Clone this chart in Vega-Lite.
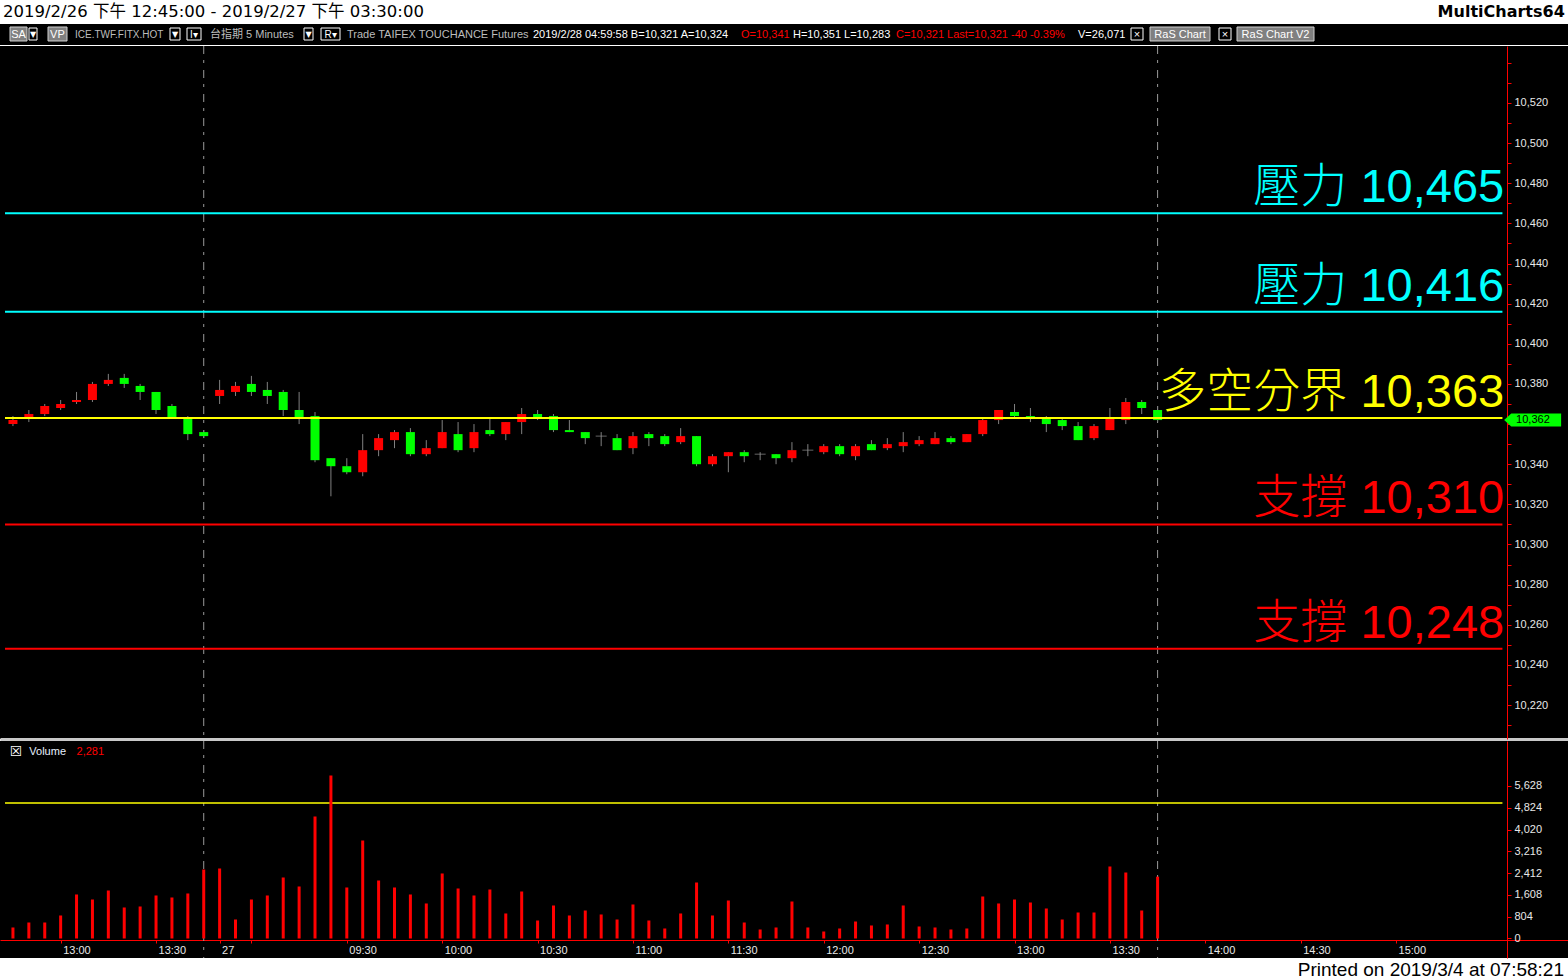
{
  "$schema": "https://vega.github.io/schema/vega-lite/v6.json",
  "background": "#ffffff",
  "padding": 0,
  "spacing": 0,
  "config": {"view": {"stroke": null}, "font": "Liberation Sans", "axis": {"labelOverlap": false, "labelFlush": false, "labelBound": false}},
  "datasets": {
    "bars": [
      {"i":0,"o":10360,"h":10364,"l":10359,"c":10362,"v":406},
      {"i":1,"o":10363,"h":10367,"l":10361,"c":10365,"v":590},
      {"i":2,"o":10365,"h":10370,"l":10364,"c":10369,"v":590},
      {"i":3,"o":10368,"h":10372,"l":10367,"c":10370,"v":849},
      {"i":4,"o":10371,"h":10376,"l":10370,"c":10372,"v":1624},
      {"i":5,"o":10372,"h":10381,"l":10371,"c":10380,"v":1439},
      {"i":6,"o":10380,"h":10385,"l":10379,"c":10382,"v":1771},
      {"i":7,"o":10383,"h":10385,"l":10378,"c":10380,"v":1144},
      {"i":8,"o":10379,"h":10380,"l":10372,"c":10376,"v":1181},
      {"i":9,"o":10376,"h":10376,"l":10365,"c":10367,"v":1587},
      {"i":10,"o":10369,"h":10370,"l":10363,"c":10363,"v":1513},
      {"i":11,"o":10363,"h":10364,"l":10352,"c":10355,"v":1661},
      {"i":12,"o":10356,"h":10357,"l":10353,"c":10354,"v":2546},
      {"i":13,"o":10374,"h":10382,"l":10370,"c":10377,"v":2583},
      {"i":14,"o":10376,"h":10381,"l":10374,"c":10379,"v":701},
      {"i":15,"o":10380,"h":10384,"l":10374,"c":10376,"v":1439},
      {"i":16,"o":10377,"h":10381,"l":10370,"c":10374,"v":1587},
      {"i":17,"o":10376,"h":10377,"l":10364,"c":10367,"v":2251},
      {"i":18,"o":10367,"h":10376,"l":10360,"c":10363,"v":1919},
      {"i":19,"o":10364,"h":10366,"l":10341,"c":10342,"v":4502},
      {"i":20,"o":10343,"h":10343,"l":10324,"c":10339,"v":6015},
      {"i":21,"o":10339,"h":10343,"l":10335,"c":10336,"v":1882},
      {"i":22,"o":10336,"h":10355,"l":10334,"c":10347,"v":3616},
      {"i":23,"o":10347,"h":10355,"l":10344,"c":10353,"v":2140},
      {"i":24,"o":10352,"h":10357,"l":10348,"c":10356,"v":1882},
      {"i":25,"o":10356,"h":10358,"l":10344,"c":10345,"v":1624},
      {"i":26,"o":10345,"h":10352,"l":10344,"c":10348,"v":1292},
      {"i":27,"o":10348,"h":10362,"l":10348,"c":10356,"v":2399},
      {"i":28,"o":10355,"h":10361,"l":10346,"c":10347,"v":1845},
      {"i":29,"o":10348,"h":10360,"l":10346,"c":10356,"v":1587},
      {"i":30,"o":10357,"h":10363,"l":10354,"c":10355,"v":1808},
      {"i":31,"o":10355,"h":10361,"l":10352,"c":10361,"v":923},
      {"i":32,"o":10361,"h":10368,"l":10355,"c":10365,"v":1734},
      {"i":33,"o":10365,"h":10367,"l":10362,"c":10363,"v":664},
      {"i":34,"o":10364,"h":10365,"l":10356,"c":10357,"v":1218},
      {"i":35,"o":10357,"h":10362,"l":10356,"c":10356,"v":849},
      {"i":36,"o":10356,"h":10356,"l":10350,"c":10353,"v":1033},
      {"i":37,"o":10354,"h":10356,"l":10349,"c":10354,"v":886},
      {"i":38,"o":10353,"h":10355,"l":10347,"c":10347,"v":701},
      {"i":39,"o":10348,"h":10356,"l":10345,"c":10354,"v":1255},
      {"i":40,"o":10355,"h":10356,"l":10349,"c":10353,"v":664},
      {"i":41,"o":10354,"h":10355,"l":10349,"c":10350,"v":369},
      {"i":42,"o":10351,"h":10358,"l":10350,"c":10354,"v":923},
      {"i":43,"o":10354,"h":10354,"l":10339,"c":10340,"v":2066},
      {"i":44,"o":10340,"h":10345,"l":10339,"c":10344,"v":849},
      {"i":45,"o":10344,"h":10346,"l":10336,"c":10346,"v":1402},
      {"i":46,"o":10346,"h":10347,"l":10341,"c":10344,"v":590},
      {"i":47,"o":10345,"h":10346,"l":10342,"c":10345,"v":332},
      {"i":48,"o":10345,"h":10345,"l":10340,"c":10343,"v":406},
      {"i":49,"o":10343,"h":10351,"l":10341,"c":10347,"v":1365},
      {"i":50,"o":10347,"h":10350,"l":10344,"c":10347,"v":406},
      {"i":51,"o":10346,"h":10350,"l":10345,"c":10349,"v":258},
      {"i":52,"o":10349,"h":10350,"l":10344,"c":10345,"v":369},
      {"i":53,"o":10344,"h":10350,"l":10342,"c":10349,"v":627},
      {"i":54,"o":10350,"h":10352,"l":10347,"c":10347,"v":480},
      {"i":55,"o":10348,"h":10353,"l":10347,"c":10350,"v":517},
      {"i":56,"o":10349,"h":10356,"l":10346,"c":10351,"v":1218},
      {"i":57,"o":10350,"h":10354,"l":10349,"c":10352,"v":443},
      {"i":58,"o":10350,"h":10356,"l":10350,"c":10353,"v":406},
      {"i":59,"o":10353,"h":10354,"l":10350,"c":10351,"v":332},
      {"i":60,"o":10351,"h":10355,"l":10351,"c":10355,"v":369},
      {"i":61,"o":10355,"h":10363,"l":10354,"c":10362,"v":1550},
      {"i":62,"o":10362,"h":10367,"l":10360,"c":10367,"v":1292},
      {"i":63,"o":10366,"h":10370,"l":10363,"c":10364,"v":1439},
      {"i":64,"o":10364,"h":10368,"l":10361,"c":10363,"v":1328},
      {"i":65,"o":10363,"h":10364,"l":10356,"c":10360,"v":1107},
      {"i":66,"o":10362,"h":10363,"l":10357,"c":10359,"v":701},
      {"i":67,"o":10359,"h":10361,"l":10352,"c":10352,"v":959},
      {"i":68,"o":10353,"h":10360,"l":10352,"c":10359,"v":959},
      {"i":69,"o":10357,"h":10368,"l":10357,"c":10363,"v":2657},
      {"i":70,"o":10362,"h":10373,"l":10360,"c":10371,"v":2435},
      {"i":71,"o":10371,"h":10372,"l":10365,"c":10368,"v":1033},
      {"i":72,"o":10367,"h":10369,"l":10361,"c":10362,"v":2281}
    ],
    "levels": [
      {"kind":"壓力","price":10465,"label":"壓力 10,465"},
      {"kind":"壓力","price":10416,"label":"壓力 10,416"},
      {"kind":"多空分界","price":10363,"label":"多空分界 10,363"},
      {"kind":"支撐","price":10310,"label":"支撐 10,310"},
      {"kind":"支撐","price":10248,"label":"支撐 10,248"}
    ]
  },
  "vconcat": [
    {
      "width": 1568, "height": 24,
      "view": {"fill": "#ffffff", "stroke": null},
      "data": {"values": [{}]},
      "layer": [
        {"mark": {"type": "text", "align": "left", "baseline": "middle", "font": "DejaVu Sans, Noto Sans CJK TC", "fontSize": 16.5, "color": "#000000", "text": "2019/2/26 下午 12:45:00 - 2019/2/27 下午 03:30:00"},
         "encoding": {"x": {"datum": -0.31, "type": "quantitative", "scale": {"domain": [-0.5, 97.5], "nice": false, "zero": false}, "axis": null}}},
        {"mark": {"type": "text", "align": "right", "baseline": "middle", "font": "DejaVu Sans", "fontWeight": "bold", "fontSize": 16, "color": "#000000", "text": "MultiCharts64"},
         "encoding": {"x": {"datum": 97.3, "type": "quantitative"}}}
      ]
    },
    {
      "width": 1568, "height": 21,
      "view": {"fill": "#000000", "stroke": null},
      "data": {"values": [{}]},
      "layer": [
        {"mark": {"type": "rect", "fill": "#808080", "stroke": "#d0d0d0", "strokeWidth": 1},
         "encoding": {"x": {"datum": 0.125, "type": "quantitative", "scale": {"domain": [-0.5, 97.5], "nice": false, "zero": false}, "axis": null}, "x2": {"datum": 1.1875}, "y": {"datum": 3, "type": "quantitative", "scale": {"domain": [21, 0], "nice": false, "zero": false}, "axis": null}, "y2": {"datum": 17}}},
        {"mark": {"type": "rect", "fill": "#808080", "stroke": "#d0d0d0", "strokeWidth": 1}, "encoding": {"x": {"datum": 2.5}, "x2": {"datum": 3.6875}, "y": {"datum": 3}, "y2": {"datum": 17}}},
        {"mark": {"type": "rect", "fill": "#808080", "stroke": "#d0d0d0", "strokeWidth": 1}, "encoding": {"x": {"datum": 71.375}, "x2": {"datum": 75.125}, "y": {"datum": 3}, "y2": {"datum": 17}}},
        {"mark": {"type": "rect", "fill": "#808080", "stroke": "#d0d0d0", "strokeWidth": 1}, "encoding": {"x": {"datum": 76.8125}, "x2": {"datum": 81.625}, "y": {"datum": 3}, "y2": {"datum": 17}}},
        {"mark": {"type": "rect", "fill": "#000000", "stroke": "#ffffff", "strokeWidth": 1}, "encoding": {"x": {"datum": 1.3125}, "x2": {"datum": 1.8125}, "y": {"datum": 4}, "y2": {"datum": 16}}},
        {"mark": {"type": "rect", "fill": "#000000", "stroke": "#ffffff", "strokeWidth": 1}, "encoding": {"x": {"datum": 10.125}, "x2": {"datum": 10.75}, "y": {"datum": 4}, "y2": {"datum": 16}}},
        {"mark": {"type": "rect", "fill": "#000000", "stroke": "#ffffff", "strokeWidth": 1}, "encoding": {"x": {"datum": 11.1875}, "x2": {"datum": 12.0625}, "y": {"datum": 4}, "y2": {"datum": 16}}},
        {"mark": {"type": "rect", "fill": "#000000", "stroke": "#ffffff", "strokeWidth": 1}, "encoding": {"x": {"datum": 18.5}, "x2": {"datum": 19.0625}, "y": {"datum": 4}, "y2": {"datum": 16}}},
        {"mark": {"type": "rect", "fill": "#000000", "stroke": "#ffffff", "strokeWidth": 1}, "encoding": {"x": {"datum": 19.5625}, "x2": {"datum": 20.75}, "y": {"datum": 4}, "y2": {"datum": 16}}},
        {"mark": {"type": "rect", "fill": "#000000", "stroke": "#ffffff", "strokeWidth": 1}, "encoding": {"x": {"datum": 70.1875}, "x2": {"datum": 70.9375}, "y": {"datum": 4}, "y2": {"datum": 16}}},
        {"mark": {"type": "rect", "fill": "#000000", "stroke": "#ffffff", "strokeWidth": 1}, "encoding": {"x": {"datum": 75.6875}, "x2": {"datum": 76.4375}, "y": {"datum": 4}, "y2": {"datum": 16}}},
        {"mark": {"type": "text", "align": "center", "baseline": "middle", "fontSize": 11, "color": "#ffffff", "text": "SA"}, "encoding": {"x": {"datum": 0.656}}},
        {"mark": {"type": "text", "align": "center", "baseline": "middle", "fontSize": 11, "color": "#ffffff", "text": "VP"}, "encoding": {"x": {"datum": 3.09}}},
        {"mark": {"type": "text", "align": "center", "baseline": "middle", "fontSize": 8, "font": "DejaVu Sans", "color": "#ffffff", "text": "▼"}, "encoding": {"x": {"datum": 1.5625}}},
        {"mark": {"type": "text", "align": "center", "baseline": "middle", "fontSize": 8, "font": "DejaVu Sans", "color": "#ffffff", "text": "▼"}, "encoding": {"x": {"datum": 10.4375}}},
        {"mark": {"type": "text", "align": "center", "baseline": "middle", "fontSize": 8, "font": "DejaVu Sans", "color": "#ffffff", "text": "▼"}, "encoding": {"x": {"datum": 18.78}}},
        {"mark": {"type": "text", "align": "center", "baseline": "middle", "fontSize": 10, "color": "#ffffff", "text": "I▾"}, "encoding": {"x": {"datum": 11.625}}},
        {"mark": {"type": "text", "align": "center", "baseline": "middle", "fontSize": 10, "color": "#ffffff", "text": "R▾"}, "encoding": {"x": {"datum": 20.16}}},
        {"mark": {"type": "text", "align": "left", "baseline": "middle", "fontSize": 10, "color": "#bdbdbd", "text": "ICE.TWF.FITX.HOT"}, "encoding": {"x": {"datum": 4.1875}}},
        {"mark": {"type": "text", "align": "left", "baseline": "middle", "fontSize": 11, "font": "Liberation Sans, Noto Sans CJK TC", "color": "#bdbdbd", "text": "台指期  5 Minutes"}, "encoding": {"x": {"datum": 12.625}}},
        {"mark": {"type": "text", "align": "left", "baseline": "middle", "fontSize": 11, "color": "#bdbdbd", "text": "Trade  TAIFEX  TOUCHANCE  Futures"}, "encoding": {"x": {"datum": 21.1875}}},
        {"mark": {"type": "text", "align": "left", "baseline": "middle", "fontSize": 11, "color": "#ffffff", "text": "2019/2/28  04:59:58  B=10,321  A=10,324"}, "encoding": {"x": {"datum": 32.8125}}},
        {"mark": {"type": "text", "align": "left", "baseline": "middle", "fontSize": 11, "color": "#ff0000", "text": "O=10,341"}, "encoding": {"x": {"datum": 45.8125}}},
        {"mark": {"type": "text", "align": "left", "baseline": "middle", "fontSize": 11, "color": "#ffffff", "text": "H=10,351  L=10,283"}, "encoding": {"x": {"datum": 49.0625}}},
        {"mark": {"type": "text", "align": "left", "baseline": "middle", "fontSize": 11, "color": "#ff0000", "text": "C=10,321  Last=10,321  -40  -0.39%"}, "encoding": {"x": {"datum": 55.5}}},
        {"mark": {"type": "text", "align": "left", "baseline": "middle", "fontSize": 11, "color": "#ffffff", "text": "V=26,071"}, "encoding": {"x": {"datum": 66.875}}},
        {"mark": {"type": "text", "align": "center", "baseline": "middle", "fontSize": 11, "color": "#ffffff", "text": "×"}, "encoding": {"x": {"datum": 70.5625}}},
        {"mark": {"type": "text", "align": "center", "baseline": "middle", "fontSize": 11, "color": "#ffffff", "text": "×"}, "encoding": {"x": {"datum": 76.0625}}},
        {"mark": {"type": "text", "align": "center", "baseline": "middle", "fontSize": 11, "color": "#ffffff", "text": "RaS Chart"}, "encoding": {"x": {"datum": 73.25}}},
        {"mark": {"type": "text", "align": "center", "baseline": "middle", "fontSize": 11, "color": "#ffffff", "text": "RaS Chart V2"}, "encoding": {"x": {"datum": 79.22}}}
      ]
    },
    {
      "width": 1568, "height": 693,
      "view": {"fill": "#000000", "stroke": null},
      "layer": [
        {"data": {"values": [{"i": 12}, {"i": 72}]},
         "mark": {"type": "rule", "color": "#9a9a9a", "strokeWidth": 1, "strokeDash": [8, 6, 3, 7]},
         "encoding": {"x": {"field": "i", "type": "quantitative", "scale": {"domain": [-0.5, 97.5], "nice": false, "zero": false},
           "axis": {"orient": "bottom", "labels": false, "ticks": false, "grid": false, "title": null, "domainColor": "#c8c8c8", "domainWidth": 3}}}},
        {"data": {"name": "bars"},
         "mark": {"type": "rule", "color": "#808080", "strokeWidth": 1},
         "encoding": {"x": {"field": "i", "type": "quantitative"},
           "y": {"field": "l", "type": "quantitative", "scale": {"domain": [10203.06, 10548.4], "nice": false, "zero": false},
             "axis": {"orient": "right", "offset": -61, "title": null, "grid": false, "tickCount": 1000,
               "values": [10210,10220,10230,10240,10250,10260,10270,10280,10290,10300,10310,10320,10330,10340,10350,10360,10370,10380,10390,10400,10410,10420,10430,10440,10450,10460,10470,10480,10490,10500,10510,10520,10530,10540],
               "labelExpr": "indexof([10220,10240,10260,10280,10300,10320,10340,10380,10400,10420,10440,10460,10480,10500,10520], datum.value) >= 0 ? format(datum.value, ',d') : ''",
               "domainColor": "#ff0000", "tickColor": "#ff0000", "tickSize": 4, "labelColor": "#e8e8e8", "labelFontSize": 11, "labelPadding": 3, "labelOverlap": false, "labelFlush": false}},
           "y2": {"field": "h"}}},
        {"data": {"name": "bars"},
         "transform": [{"filter": "datum.o != datum.c"}],
         "mark": {"type": "bar", "width": 9},
         "encoding": {"x": {"field": "i", "type": "quantitative"}, "y": {"field": "o", "type": "quantitative"}, "y2": {"field": "c"},
           "color": {"condition": {"test": "datum.c > datum.o", "value": "#ff0000"}, "value": "#00ff00"}}},
        {"data": {"name": "bars"},
         "transform": [{"filter": "datum.o == datum.c"}],
         "mark": {"type": "tick", "orient": "horizontal", "size": 11, "thickness": 1, "color": "#909090"},
         "encoding": {"x": {"field": "i", "type": "quantitative"}, "y": {"field": "o", "type": "quantitative"}}},
        {"data": {"name": "levels"},
         "mark": {"type": "rule", "strokeWidth": 2},
         "encoding": {"y": {"field": "price", "type": "quantitative"}, "x": {"datum": -0.5, "type": "quantitative"}, "x2": {"datum": 93.69},
           "color": {"field": "kind", "type": "nominal", "scale": {"domain": ["壓力", "多空分界", "支撐"], "range": ["#00ffff", "#ffff00", "#ff0000"]}, "legend": null}}},
        {"data": {"name": "levels"},
         "mark": {"type": "text", "align": "right", "baseline": "alphabetic", "dy": -11, "fontSize": 47, "font": "Liberation Sans, Noto Sans CJK TC", "fontWeight": 300},
         "encoding": {"y": {"field": "price", "type": "quantitative"}, "x": {"datum": 93.8, "type": "quantitative"}, "text": {"field": "label"},
           "color": {"field": "kind", "type": "nominal", "legend": null}}},
        {"data": {"name": "bars"},
         "transform": [{"filter": "datum.i == 72"}],
         "mark": {"type": "point", "shape": "M -1 0 L -0.75 -0.23 L 1 -0.23 L 1 0.23 L -0.75 0.23 Z", "size": 3249, "filled": true, "fill": "#00ff00", "opacity": 1, "strokeWidth": 0},
         "encoding": {"x": {"datum": 95.59, "type": "quantitative"}, "y": {"field": "c", "type": "quantitative"}}},
        {"data": {"name": "bars"},
         "transform": [{"filter": "datum.i == 72"}],
         "mark": {"type": "text", "align": "left", "baseline": "middle", "fontSize": 11, "color": "#000000"},
         "encoding": {"x": {"datum": 94.55, "type": "quantitative"}, "y": {"field": "c", "type": "quantitative"}, "text": {"field": "c", "type": "quantitative", "format": ",d"}}}
      ]
    },
    {
      "width": 1568, "height": 217,
      "view": {"fill": "#000000", "stroke": null},
      "title": {"text": "Printed on 2019/3/4 at 07:58:21", "orient": "bottom", "anchor": "end", "fontSize": 19, "font": "Liberation Sans", "fontWeight": "normal", "color": "#000000", "offset": 2, "dx": -4},
      "layer": [
        {"data": {"values": [{"i": 12}, {"i": 72}]},
         "mark": {"type": "rule", "color": "#9a9a9a", "strokeWidth": 1, "strokeDash": [8, 6, 3, 7]},
         "encoding": {"x": {"field": "i", "type": "quantitative", "scale": {"domain": [-0.5, 97.5], "nice": false, "zero": false},
           "axis": {"orient": "bottom", "offset": -18, "title": null, "grid": false, "tickCount": 1000,
             "values": [3,9,13,15,21,27,33,39,45,51,57,63,69,75,81,87],
             "labelExpr": "['13:00','13:30','27','','09:30','10:00','10:30','11:00','11:30','12:00','12:30','13:00','13:30','14:00','14:30','15:00'][indexof([3,9,13,15,21,27,33,39,45,51,57,63,69,75,81,87], datum.value)]",
             "labelAlign": "left", "labelOffset": 2, "tickSize": 3, "tickColor": "#ff0000", "domainColor": "#ff0000", "labelColor": "#e8e8e8", "labelFontSize": 11, "labelPadding": 1, "labelOverlap": false, "labelFlush": false}}}},
        {"data": {"values": [{"v": 5000}]},
         "mark": {"type": "rule", "color": "#ffff00", "strokeWidth": 1.5},
         "encoding": {"y": {"field": "v", "type": "quantitative", "scale": {"domain": [-720, 7288], "nice": false, "zero": false},
           "axis": {"orient": "right", "offset": -61, "title": null, "grid": false, "tickCount": 1000, "values": [0, 804, 1608, 2412, 3216, 4020, 4824, 5628],
             "labelExpr": "format(datum.value, ',d')",
             "domainColor": "#ff0000", "tickColor": "#ff0000", "tickSize": 4, "labelColor": "#e8e8e8", "labelFontSize": 11, "labelPadding": 3, "labelOverlap": false, "labelFlush": false}},
           "x": {"datum": -0.5, "type": "quantitative"}, "x2": {"datum": 93.69}}},
        {"data": {"name": "bars"},
         "mark": {"type": "bar", "width": 3, "color": "#ff0000"},
         "encoding": {"x": {"field": "i", "type": "quantitative"}, "y": {"field": "v", "type": "quantitative"}, "y2": {"datum": 0}}},
        {"data": {"values": [{}]},
         "mark": {"type": "text", "align": "center", "baseline": "middle", "fontSize": 14, "font": "DejaVu Sans", "color": "#ffffff", "text": "☒"},
         "encoding": {"x": {"datum": 0.19, "type": "quantitative"}, "y": {"datum": 6900, "type": "quantitative"}}},
        {"data": {"values": [{}]},
         "mark": {"type": "text", "align": "left", "baseline": "middle", "fontSize": 11, "color": "#e8f0ff", "text": "Volume"},
         "encoding": {"x": {"datum": 1.03, "type": "quantitative"}, "y": {"datum": 6900, "type": "quantitative"}}},
        {"data": {"name": "bars"},
         "transform": [{"filter": "datum.i == 72"}],
         "mark": {"type": "text", "align": "left", "baseline": "middle", "fontSize": 11, "color": "#ff0000"},
         "encoding": {"x": {"datum": 4.0, "type": "quantitative"}, "y": {"datum": 6900, "type": "quantitative"}, "text": {"field": "v", "type": "quantitative", "format": ",d"}}}
      ]
    }
  ]
}
